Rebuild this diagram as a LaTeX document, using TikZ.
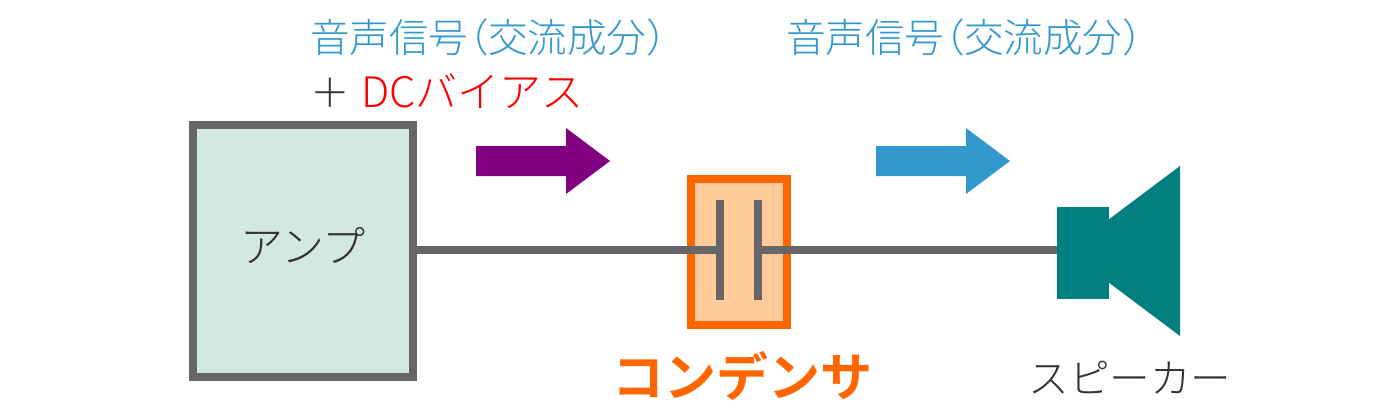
\documentclass[tikz,border=0pt]{standalone}
\usepackage{fontspec}
\setmainfont{Noto Sans CJK JP Light}
\newfontfamily\boldcjk{Noto Sans CJK JP Bold}
\definecolor{wiregray}{HTML}{666666}
\definecolor{ampfill}{HTML}{D3E8E0}
\definecolor{capfill}{HTML}{FFCC99}
\definecolor{capedge}{HTML}{FF6600}
\definecolor{teal2}{HTML}{008080}
\definecolor{sigblue}{HTML}{3399CC}
\definecolor{arrowpurple}{HTML}{800080}
\definecolor{txt}{HTML}{333333}
\tikzset{
  x=1pt,y=-1pt,
  boxnode/.style={draw,line width=8pt,rectangle,inner sep=0pt,outer sep=0pt},
  plate/.style={fill=wiregray,rectangle,inner sep=0pt,outer sep=0pt,minimum width=8pt,minimum height=100pt},
  wire/.style={wiregray,line width=8pt},
  label/.style={inner sep=0pt,outer sep=0pt,anchor=base west,font=\fontsize{39.6pt}{39.6pt}\selectfont},
  biglabel/.style={label,font=\fontsize{42pt}{42pt}\selectfont},
}
\begin{document}
\begin{tikzpicture}
\useasboundingbox (0,0) rectangle (1400,420);
\node[boxnode,draw=wiregray,fill=ampfill,minimum width=220pt,minimum height=252pt] (amp) at (303,251) {};
\node[boxnode,draw=capedge,fill=capfill,minimum width=96pt,minimum height=146pt] (cap) at (739,252) {};
\node[plate] (pl) at (720,250) {};
\node[plate] (pr) at (758,250) {};
\node[fill=teal2,rectangle,inner sep=0pt,outer sep=0pt,minimum width=52pt,minimum height=92pt] (spk) at (1083,253) {};
\fill[teal2] (1109,219.3) -- (1180,166) -- (1180,336) -- (1109,282.7) -- cycle;
\draw[wire] (amp.east |- pl) -- (pl.center);
\draw[wire] (pr.center) -- (spk.west |- pr);
\fill[arrowpurple] (476,146) -- (566,146) -- (566,128) -- (610,161) -- (566,194) -- (566,176) -- (476,176) -- cycle;
\fill[sigblue] (876,146) -- (966,146) -- (966,128) -- (1010,161) -- (966,194) -- (966,176) -- (876,176) -- cycle;
\node[label,text=sigblue] (t1) at (310,53) {音声信号\hspace{-19pt}（\hspace{-1pt}交流成分）};
\node[label,text=sigblue] (t2) at (786,53) {音声信号\hspace{-19pt}（\hspace{-1pt}交流成分）};
\node[label,text=txt] (plus) at (310,107) {＋};
\node[biglabel,text=red] (dc) at (361,107) {DCバイアス};
\node[biglabel,text=txt,anchor=base,font=\fontsize{43pt}{43pt}\selectfont] (ampt) at (303,262) {アンプ};
\node[label,text=capedge,anchor=base,font=\boldcjk\fontsize{52pt}{52pt}\selectfont] (capt) at (742,396) {コンデンサ};
\node[biglabel,text=txt,anchor=base,font=\fontsize{40.6pt}{40.6pt}\selectfont] (spkt) at (1130,393) {スピーカー};
\end{tikzpicture}
\end{document}
